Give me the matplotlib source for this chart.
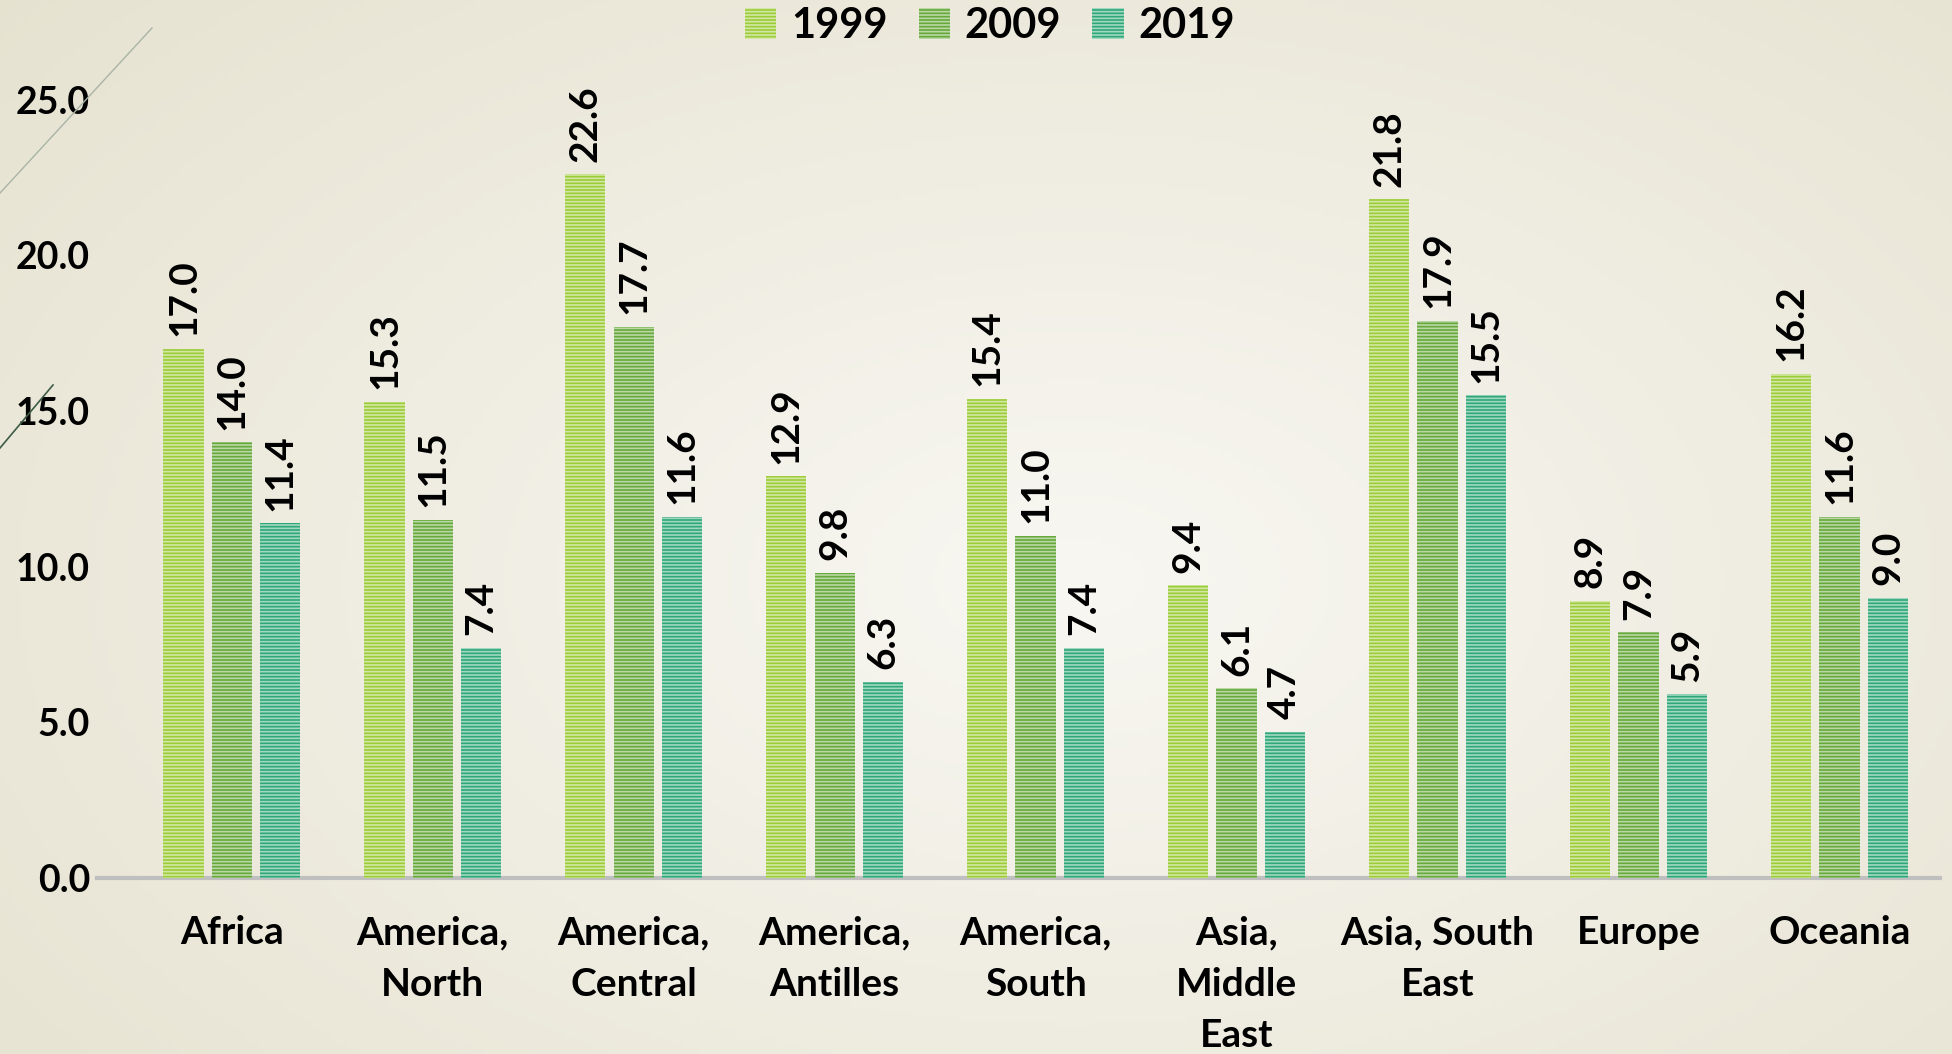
#!/usr/bin/env python
"""
Grouped bar chart by region, 1999 / 2009 / 2019
"""

import numpy as np
import matplotlib
matplotlib.use('Agg')
import matplotlib.pyplot as plt
from matplotlib.lines import Line2D

# Data
regions = ['Africa', 'America,\nNorth', 'America,\nCentral', 'America,\nAntilles',
           'America,\nSouth', 'Asia,\nMiddle\nEast', 'Asia, South\nEast', 'Europe', 'Oceania']
years = ['1999', '2009', '2019']
v1999 = [17.0, 15.3, 22.6, 12.9, 15.4, 9.4, 21.8, 8.9, 16.2]
v2009 = [14.0, 11.5, 17.7, 9.8, 11.0, 6.1, 17.9, 7.9, 11.6]
v2019 = [11.4, 7.4, 11.6, 6.3, 7.4, 4.7, 15.5, 5.9, 9.0]
y_ticks = [0, 5, 10, 15, 20, 25]

colors = ['#9ccc38', '#66a83a', '#2fa878']

plt.rcParams['font.family'] = ['Lato', 'DejaVu Sans']
plt.rcParams['font.weight'] = 'bold'
plt.rcParams['hatch.linewidth'] = 1.2

fig = plt.figure(figsize=(19.52, 10.54), dpi=100)

# slide background: soft radial gradient
bg = fig.add_axes([0, 0, 1, 1], zorder=-10)
yy, xx = np.mgrid[0:1:200j, 0:1:360j]
r = np.sqrt(((xx - 0.55) / 0.75) ** 2 + ((yy - 0.45) / 0.85) ** 2)
r = np.clip(r, 0, 1)
c_in = np.array([248, 247, 242]) / 255
c_out = np.array([230, 226, 208]) / 255
img = c_in[None, None, :] * (1 - r[..., None]) + c_out[None, None, :] * r[..., None]
bg.imshow(img, aspect='auto', extent=[0, 1, 0, 1], origin='lower')
bg.axis('off')

# decorative slide lines top-left
fig.add_artist(Line2D([0, 152 / 1952], [1 - 193 / 1054, 1 - 28 / 1054],
                      color='#a9b4a6', lw=1.0))
fig.add_artist(Line2D([0, 53 / 1952], [1 - 448 / 1054, 1 - 385 / 1054],
                      color='#3d5c45', lw=1.2))

ax = fig.add_axes([97 / 1952, 176 / 1054, (1940 - 97) / 1952, (954.4 - 176) / 1054])
ax.patch.set_alpha(0)

x = np.arange(len(regions))
width = 0.2
step = 0.24
series = [v1999, v2009, v2019]
for i, (vals, col, yr) in enumerate(zip(series, colors, years)):
    bars = ax.bar(x + (i - 1) * step, vals, width, color=col, label=yr,
                  edgecolor=(1, 1, 1, 0.55), linewidth=0, hatch='-----', zorder=3)
    for b, v in zip(bars, vals):
        ax.annotate('%.1f' % v, (b.get_x() + b.get_width() / 2, v),
                    xytext=(0, 9), textcoords='offset points',
                    ha='center', va='bottom', rotation=90,
                    fontsize=28, fontweight='bold', annotation_clip=False)

ax.set_ylim(0, 25)
ax.set_xlim(-0.67, 8.5)
ax.set_yticks(y_ticks)
ax.set_yticklabels(['%.1f' % t for t in y_ticks], fontsize=27)
ax.set_xticks(x)
ax.set_xticklabels(regions, linespacing=1.56, fontsize=28)
ax.tick_params(axis='both', length=0)
ax.tick_params(axis='x', pad=27)
ax.tick_params(axis='y', pad=5)
for s in ['top', 'right', 'left']:
    ax.spines[s].set_visible(False)
ax.spines['bottom'].set_color('#bfbfbf')
ax.spines['bottom'].set_linewidth(3)

leg = fig.legend(loc='center', bbox_to_anchor=(990 / 1952, 1 - 26 / 1054), ncol=3,
                 frameon=False, fontsize=30, handlelength=0.75, handleheight=0.75,
                 handletextpad=0.35, columnspacing=0.75)

plt.savefig('out.png', dpi=100)
plt.close('all')
